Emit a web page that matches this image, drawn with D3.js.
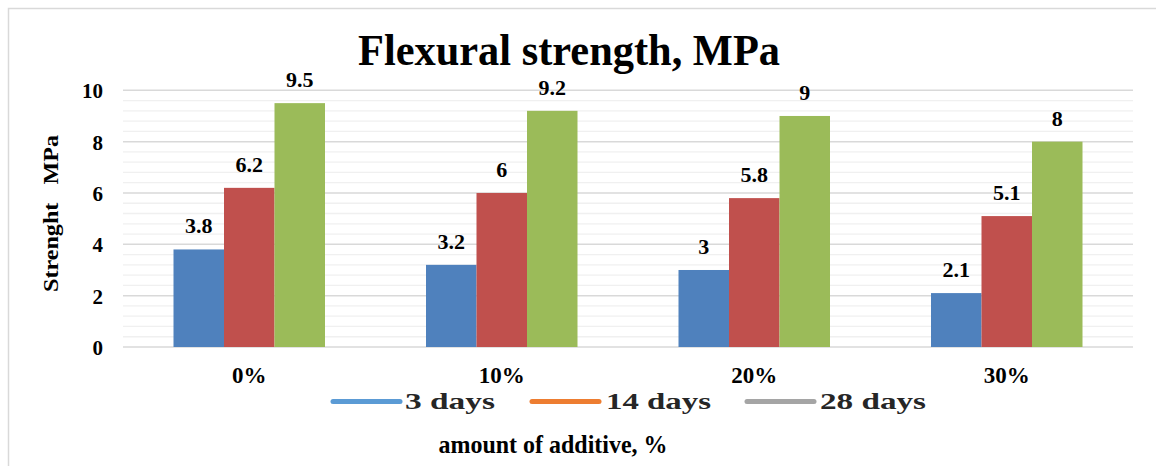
<!DOCTYPE html>
<html><head><meta charset="utf-8">
<script src="https://cdn.jsdelivr.net/npm/d3@7"></script>
<style>body{margin:0;background:#fff}svg{display:block}text{font-family:"Liberation Serif","Times New Roman",serif;font-weight:bold;fill:#000}</style>
</head><body><svg id="c" width="1156" height="466"></svg>
<script>
const categories = ["0%", "10%", "20%", "30%"];
const seriesNames = ["3 days", "14 days", "28 days"];
const days3 = [3.8, 3.2, 3, 2.1];
const days14 = [6.2, 6, 5.8, 5.1];
const days28 = [9.5, 9.2, 9, 8];
const yTicks = [0, 2, 4, 6, 8, 10];
const barColors = ["#4F81BD", "#C0504D", "#9BBB59"];
const legendColors = ["#5B9BD5", "#ED7D31", "#A5A5A5"];

const series = [days3, days14, days28];
const svg = d3.select("#c");
const L = 123, R = 1133, T = 90.3, B = 347;

svg.append("rect").attr("x", 8.5).attr("y", 8.5).attr("width", 1160).attr("height", 470)
  .attr("fill", "#fff").attr("stroke", "#d9d9d9").attr("stroke-width", 1.5);

const y = d3.scaleLinear().domain([0, 10]).range([B, T]);
const x0 = d3.scaleBand().domain(categories).range([L, R]).paddingInner(0.4).paddingOuter(0.2);
const x1 = d3.scaleBand().domain(seriesNames).range([0, x0.bandwidth()]);

// minor grid
const minor = d3.range(0, 10.01, 0.4).filter(v => Math.abs(v / 2 - Math.round(v / 2)) > 0.01);
svg.append("g").selectAll("line").data(minor).join("line")
  .attr("x1", L).attr("x2", R).attr("y1", d => y(d)).attr("y2", d => y(d))
  .attr("stroke", "#f0f0f0").attr("stroke-width", 1.3);
// major grid
svg.append("g").selectAll("line").data(yTicks).join("line")
  .attr("x1", L).attr("x2", R).attr("y1", d => y(d)).attr("y2", d => y(d))
  .attr("stroke", "#d9d9d9").attr("stroke-width", 1.5);

// y axis labels
const yAxis = d3.axisLeft(y).tickValues(yTicks).tickSize(0).tickPadding(0);
const ya = svg.append("g").attr("transform", `translate(103,0)`).call(yAxis);
ya.select(".domain").remove();
ya.selectAll("text").style("font-size", "21px").attr("fill", "#000").attr("dy", "0.36em");

// bars
const groups = svg.append("g").selectAll("g").data(categories).join("g")
  .attr("transform", d => `translate(${x0(d)},0)`);
groups.selectAll("rect").data((c, i) => series.map((s, j) => ({ name: seriesNames[j], v: s[i], j })))
  .join("rect")
  .attr("x", d => x1(d.name)).attr("width", x1.bandwidth())
  .attr("y", d => y(d.v)).attr("height", d => y(0) - y(d.v))
  .attr("fill", d => barColors[d.j]);
groups.selectAll("text").data((c, i) => series.map((s, j) => ({ name: seriesNames[j], v: s[i], j })))
  .join("text")
  .attr("x", d => x1(d.name) + x1.bandwidth() / 2).attr("y", d => y(d.v) - 16)
  .attr("text-anchor", "middle").style("font-size", "22px")
  .text(d => String(d.v));

// x labels
const xAxis = d3.axisBottom(x0).tickSize(0).tickPadding(0);
const xa = svg.append("g").attr("transform", `translate(0,383)`).call(xAxis);
xa.select(".domain").remove();
xa.selectAll("text").style("font-size", "23px").attr("fill", "#000").attr("dy", 0);

// title
svg.append("text").attr("x", 569).attr("y", 65).attr("text-anchor", "middle")
  .style("font-size", "44px").attr("textLength", 422).attr("lengthAdjust", "spacingAndGlyphs")
  .text("Flexural strength, MPa");

// y title
svg.append("text").attr("transform", "translate(58,213.5) rotate(-90)").attr("text-anchor", "middle")
  .style("font-size", "22px").attr("textLength", 157).attr("lengthAdjust", "spacingAndGlyphs")
  .style("white-space", "pre")
  .text("Strenght   MPa");

// legend
svg.append("rect").attr("x", 320).attr("y", 384).attr("width", 615).attr("height", 34).attr("fill", "#fff");
const legendPos = [{ lx: 333, tx: 405, tw: 90 }, { lx: 532, tx: 606, tw: 105 }, { lx: 747, tx: 820, tw: 106 }];
const lg = svg.append("g").selectAll("g").data(seriesNames).join("g");
lg.append("line").attr("x1", (d, i) => legendPos[i].lx).attr("x2", (d, i) => legendPos[i].lx + 67)
  .attr("y1", 401.5).attr("y2", 401.5).attr("stroke", (d, i) => legendColors[i])
  .attr("stroke-width", 5).attr("stroke-linecap", "round");
lg.append("text").attr("x", (d, i) => legendPos[i].tx).attr("y", 409)
  .style("font-size", "23px").attr("textLength", (d, i) => legendPos[i].tw).attr("lengthAdjust", "spacingAndGlyphs")
  .style("fill", "#262626").text(d => d);

// x title
svg.append("text").attr("x", 553).attr("y", 453).attr("text-anchor", "middle")
  .style("font-size", "26px").attr("textLength", 229).attr("lengthAdjust", "spacingAndGlyphs")
  .text("amount of additive, %");
</script></body></html>
